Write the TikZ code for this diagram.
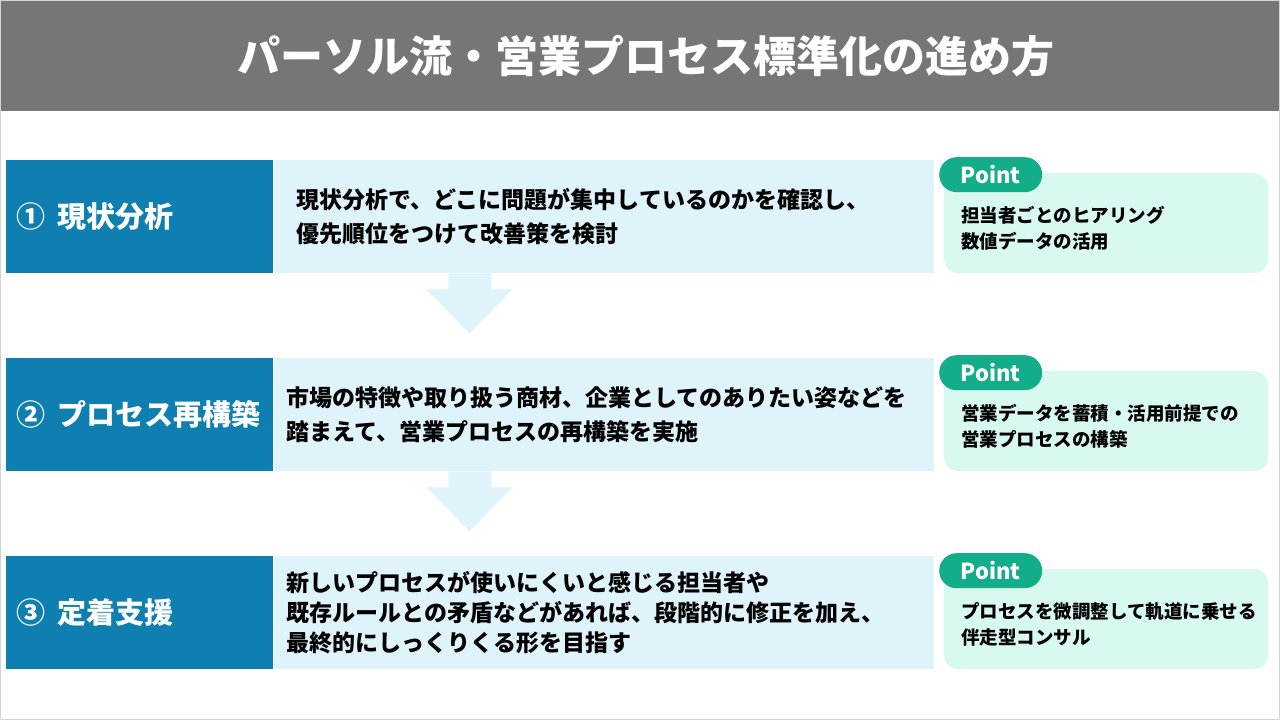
\documentclass[tikz,border=0pt]{standalone}
\usepackage{fontspec}
\setmainfont{Noto Sans CJK JP}
\definecolor{titlegray}{HTML}{767676}
\definecolor{stepblue}{HTML}{0E7FB0}
\definecolor{desclight}{HTML}{DFF3FB}
\definecolor{pointmint}{HTML}{D8F9F0}
\definecolor{pointteal}{HTML}{13AD8A}
\definecolor{framegray}{HTML}{D4D4D4}

\tikzset{
  titlebar/.style={fill=titlegray, text=white, font=\bfseries\fontsize{43}{50}\selectfont, minimum width=1278pt, minimum height=110pt, inner sep=0pt, anchor=north west},
  stepbox/.style={fill=stepblue, text=white, font=\bfseries\fontsize{29}{36}\selectfont, minimum height=113pt, inner xsep=10pt, inner ysep=0pt, text width=247pt, align=left, anchor=north west},
  descbox/.style={fill=desclight, font=\bfseries\fontsize{23}{34}\selectfont, minimum height=113pt, inner ysep=0pt, inner xsep=#1, text width=660pt-2*#1, align=left, anchor=north west},
  descbox/.default=13pt,
  pointbox/.style={fill=pointmint, rounded corners=14pt, font=\bfseries\fontsize{18.5}{26}\selectfont, minimum width=324pt, minimum height=100pt, inner xsep=17pt, inner ysep=0pt, text width=290pt, text height=27pt, align=left, anchor=north west},
  pointtag/.style={fill=pointteal, text=white, rounded corners=17.5pt, font=\bfseries\fontsize{22}{26}\selectfont, minimum width=103pt, minimum height=35pt, inner sep=0pt, anchor=north west},
  flowarrow/.style={fill=desclight}
}

\begin{document}
\begin{tikzpicture}[x=1pt,y=-1pt]
\useasboundingbox (0,0) rectangle (1280,720);
\draw [framegray](0.5,0.5) rectangle (1279.5,719.5);

\node [titlebar] (title) at (1,1) {\hspace*{12pt}パーソル流・営業プロセス標準化の進め方};

% step 1
\node [stepbox] (step1) at (6,160) {①\hspace{12pt}現状分析};
\node [descbox=23pt] (desc1) at (step1.north east) {現状分析で、どこに問題が集中しているのかを確認し、\\優先順位をつけて改善策を検討};
\node [pointbox] (pt1) at (944,173) {担当者ごとのヒアリング\\数値データの活用};
\node [pointtag] (tag1) at (939,157) {Point};
\fill [flowarrow, shift={(step1.south east)}] (175,0) -- (218,0) -- (218,16) -- (239,16) -- (196,60) -- (153,16) -- (175,16) -- cycle;

% step 2
\node [stepbox] (step2) at (6,358) {②\hspace{12pt}プロセス再構築};
\node [descbox] (desc2) at (step2.north east) {市場の特徴や取り扱う商材、企業としてのありたい姿などを\\踏まえて、営業プロセスの再構築を実施};
\node [pointbox] (pt2) at (944,371) {営業データを蓄積・活用前提での\\営業プロセスの構築};
\node [pointtag] (tag2) at (939,355) {Point};
\fill [flowarrow, shift={(step2.south east)}] (175,0) -- (218,0) -- (218,16) -- (239,16) -- (196,60) -- (153,16) -- (175,16) -- cycle;

% step 3
\node [stepbox] (step3) at (6,556) {③\hspace{12pt}定着支援};
\node [descbox, font=\bfseries\fontsize{23}{30}\selectfont] (desc3) at (step3.north east) {新しいプロセスが使いにくいと感じる担当者や\\既存ルールとの矛盾などがあれば、段階的に修正を加え、\\最終的にしっくりくる形を目指す};
\node [pointbox] (pt3) at (944,569) {プロセスを微調整して軌道に乗せる\\伴走型コンサル};
\node [pointtag] (tag3) at (939,553) {Point};
\end{tikzpicture}
\end{document}
